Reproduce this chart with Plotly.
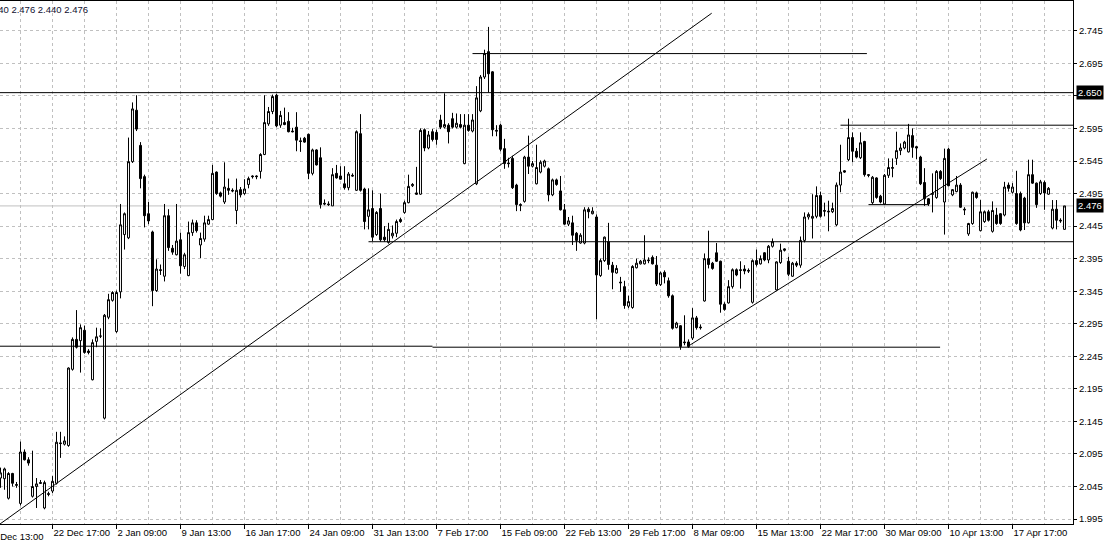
import plotly.graph_objects as go

# ---------------- data ----------------
open_ = [
    2.058, 2.057, 2.027, 2.065, 2.048, 2.019, 2.098, 2.086, 2.030, 2.045,
    2.051, 2.012, 2.034, 2.038, 2.050, 2.112, 2.110, 2.108, 2.225, 2.271,
    2.269, 2.285, 2.253, 2.209, 2.268, 2.276, 2.150, 2.305, 2.331, 2.283,
    2.344, 2.432, 2.427, 2.544, 2.623, 2.569, 2.521, 2.464, 2.436, 2.346,
    2.378, 2.368, 2.461, 2.411, 2.401, 2.424, 2.383, 2.369, 2.435, 2.450,
    2.416, 2.425, 2.448, 2.455, 2.528, 2.496, 2.482, 2.503, 2.500, 2.469,
    2.501, 2.495, 2.509, 2.522, 2.522, 2.529, 2.555, 2.602, 2.621, 2.646,
    2.600, 2.604, 2.606, 2.591, 2.597, 2.576, 2.580, 2.586, 2.526, 2.562,
    2.550, 2.480, 2.479, 2.476, 2.526, 2.522, 2.510, 2.504, 2.523, 2.500,
    2.587, 2.502, 2.460, 2.472, 2.432, 2.472, 2.428, 2.420, 2.430, 2.434,
    2.455, 2.466, 2.481, 2.507, 2.496, 2.494, 2.593, 2.565, 2.590, 2.589,
    2.608, 2.597, 2.600, 2.610, 2.597, 2.601, 2.541, 2.600, 2.591, 2.510,
    2.622, 2.674, 2.713, 2.682, 2.592, 2.600, 2.564, 2.542, 2.549, 2.508,
    2.478, 2.483, 2.551, 2.537, 2.510, 2.528, 2.537, 2.533, 2.493, 2.516,
    2.499, 2.470, 2.448, 2.450, 2.434, 2.419, 2.419, 2.471, 2.464, 2.459,
    2.369, 2.392, 2.421, 2.385, 2.373, 2.359, 2.352, 2.322, 2.320, 2.381,
    2.387, 2.387, 2.393, 2.397, 2.385, 2.355, 2.374, 2.361, 2.338, 2.289,
    2.292, 2.267, 2.267, 2.273, 2.304, 2.290, 2.330, 2.395, 2.388, 2.404,
    2.391, 2.325, 2.327, 2.352, 2.378, 2.378, 2.379, 2.377, 2.328, 2.392,
    2.387, 2.404, 2.393, 2.414, 2.347, 2.389, 2.410, 2.391, 2.368, 2.388,
    2.385, 2.423, 2.459, 2.457, 2.460, 2.492, 2.469, 2.468, 2.467, 2.447,
    2.508, 2.530, 2.547, 2.581, 2.560, 2.550, 2.575, 2.524, 2.481, 2.519,
    2.491, 2.479, 2.523, 2.535, 2.549, 2.561, 2.565, 2.559, 2.584, 2.567,
    2.551, 2.512, 2.487, 2.495, 2.489, 2.529, 2.482, 2.563, 2.493, 2.498,
    2.508, 2.471, 2.433, 2.449, 2.496, 2.438, 2.452, 2.467, 2.437, 2.462,
    2.464, 2.462, 2.508, 2.497, 2.495, 2.495, 2.488, 2.450, 2.524, 2.511,
    2.495, 2.512, 2.494, 2.442, 2.471, 2.454, 2.440,
]
high = [
    2.074, 2.074, 2.067, 2.066, 2.052, 2.114, 2.102, 2.090, 2.100, 2.058,
    2.055, 2.054, 2.037, 2.061, 2.129, 2.129, 2.122, 2.228, 2.274, 2.316,
    2.294, 2.292, 2.256, 2.271, 2.289, 2.288, 2.310, 2.341, 2.345, 2.346,
    2.479, 2.466, 2.581, 2.635, 2.646, 2.574, 2.524, 2.482, 2.438, 2.394,
    2.386, 2.479, 2.471, 2.416, 2.479, 2.435, 2.404, 2.452, 2.455, 2.454,
    2.435, 2.461, 2.461, 2.539, 2.529, 2.498, 2.543, 2.518, 2.503, 2.518,
    2.505, 2.517, 2.521, 2.523, 2.523, 2.557, 2.646, 2.628, 2.647, 2.648,
    2.622, 2.627, 2.620, 2.596, 2.620, 2.581, 2.582, 2.587, 2.564, 2.563,
    2.566, 2.486, 2.483, 2.534, 2.539, 2.537, 2.537, 2.528, 2.526, 2.592,
    2.617, 2.504, 2.503, 2.500, 2.468, 2.495, 2.445, 2.450, 2.446, 2.455,
    2.458, 2.484, 2.524, 2.511, 2.536, 2.595, 2.595, 2.591, 2.594, 2.593,
    2.616, 2.649, 2.603, 2.619, 2.618, 2.617, 2.617, 2.617, 2.617, 2.660,
    2.677, 2.716, 2.751, 2.683, 2.600, 2.602, 2.579, 2.550, 2.553, 2.510,
    2.480, 2.553, 2.584, 2.545, 2.570, 2.546, 2.547, 2.535, 2.518, 2.518,
    2.522, 2.479, 2.459, 2.461, 2.436, 2.434, 2.474, 2.474, 2.474, 2.463,
    2.395, 2.429, 2.450, 2.390, 2.385, 2.367, 2.361, 2.338, 2.385, 2.395,
    2.393, 2.431, 2.397, 2.400, 2.399, 2.375, 2.377, 2.366, 2.340, 2.298,
    2.293, 2.308, 2.271, 2.319, 2.307, 2.294, 2.403, 2.438, 2.390, 2.419,
    2.392, 2.328, 2.362, 2.380, 2.380, 2.391, 2.385, 2.380, 2.394, 2.409,
    2.400, 2.405, 2.416, 2.426, 2.391, 2.418, 2.411, 2.398, 2.390, 2.391,
    2.429, 2.466, 2.466, 2.494, 2.506, 2.498, 2.481, 2.484, 2.481, 2.512,
    2.570, 2.531, 2.610, 2.589, 2.565, 2.589, 2.576, 2.525, 2.522, 2.520,
    2.493, 2.525, 2.549, 2.549, 2.590, 2.572, 2.576, 2.602, 2.595, 2.568,
    2.553, 2.534, 2.488, 2.526, 2.531, 2.531, 2.564, 2.565, 2.502, 2.522,
    2.511, 2.474, 2.450, 2.498, 2.498, 2.485, 2.469, 2.470, 2.483, 2.473,
    2.465, 2.513, 2.512, 2.511, 2.530, 2.498, 2.490, 2.547, 2.547, 2.512,
    2.516, 2.515, 2.505, 2.485, 2.485, 2.457, 2.476,
]
low = [
    2.043, 2.040, 2.025, 2.045, 2.043, 2.016, 2.085, 2.077, 2.028, 2.012,
    2.049, 2.010, 2.030, 2.035, 2.048, 2.089, 2.108, 2.106, 2.223, 2.257,
    2.220, 2.249, 2.248, 2.208, 2.259, 2.273, 2.148, 2.302, 2.329, 2.281,
    2.334, 2.409, 2.425, 2.542, 2.591, 2.503, 2.443, 2.448, 2.322, 2.344,
    2.370, 2.360, 2.407, 2.401, 2.400, 2.372, 2.379, 2.368, 2.430, 2.435,
    2.396, 2.421, 2.447, 2.454, 2.493, 2.489, 2.479, 2.493, 2.497, 2.448,
    2.489, 2.493, 2.503, 2.518, 2.517, 2.518, 2.554, 2.599, 2.617, 2.597,
    2.596, 2.600, 2.589, 2.589, 2.560, 2.559, 2.573, 2.517, 2.523, 2.538,
    2.472, 2.477, 2.476, 2.476, 2.518, 2.516, 2.501, 2.500, 2.521, 2.499,
    2.498, 2.440, 2.440, 2.422, 2.430, 2.421, 2.421, 2.418, 2.426, 2.428,
    2.450, 2.464, 2.480, 2.505, 2.493, 2.493, 2.560, 2.563, 2.575, 2.570,
    2.594, 2.595, 2.572, 2.595, 2.595, 2.595, 2.540, 2.590, 2.589, 2.508,
    2.620, 2.671, 2.650, 2.583, 2.583, 2.560, 2.533, 2.535, 2.502, 2.468,
    2.468, 2.481, 2.525, 2.535, 2.509, 2.526, 2.535, 2.483, 2.491, 2.507,
    2.469, 2.447, 2.445, 2.416, 2.407, 2.418, 2.417, 2.457, 2.463, 2.302,
    2.367, 2.390, 2.378, 2.348, 2.372, 2.344, 2.318, 2.319, 2.318, 2.380,
    2.386, 2.386, 2.388, 2.386, 2.353, 2.353, 2.357, 2.335, 2.286, 2.288,
    2.255, 2.262, 2.258, 2.270, 2.286, 2.286, 2.329, 2.380, 2.378, 2.390,
    2.312, 2.315, 2.326, 2.349, 2.368, 2.349, 2.371, 2.373, 2.326, 2.383,
    2.386, 2.391, 2.388, 2.412, 2.346, 2.387, 2.406, 2.368, 2.367, 2.382,
    2.381, 2.420, 2.455, 2.426, 2.457, 2.458, 2.460, 2.437, 2.465, 2.445,
    2.497, 2.527, 2.545, 2.543, 2.549, 2.548, 2.521, 2.520, 2.479, 2.487,
    2.480, 2.478, 2.519, 2.520, 2.539, 2.554, 2.563, 2.558, 2.550, 2.548,
    2.508, 2.476, 2.476, 2.466, 2.487, 2.516, 2.432, 2.506, 2.491, 2.497,
    2.473, 2.462, 2.430, 2.447, 2.487, 2.437, 2.450, 2.452, 2.435, 2.447,
    2.447, 2.460, 2.498, 2.495, 2.447, 2.437, 2.439, 2.449, 2.510, 2.473,
    2.493, 2.470, 2.493, 2.440, 2.440, 2.450, 2.440,
]
close = [
    2.066, 2.072, 2.065, 2.050, 2.047, 2.098, 2.086, 2.081, 2.045, 2.049,
    2.050, 2.051, 2.033, 2.053, 2.113, 2.111, 2.115, 2.227, 2.271, 2.259,
    2.289, 2.251, 2.251, 2.266, 2.275, 2.276, 2.308, 2.332, 2.343, 2.343,
    2.447, 2.464, 2.544, 2.625, 2.594, 2.518, 2.461, 2.453, 2.346, 2.379,
    2.377, 2.461, 2.412, 2.405, 2.422, 2.384, 2.401, 2.435, 2.450, 2.438,
    2.426, 2.450, 2.455, 2.526, 2.495, 2.491, 2.505, 2.500, 2.499, 2.500,
    2.493, 2.502, 2.518, 2.521, 2.521, 2.555, 2.604, 2.621, 2.644, 2.599,
    2.615, 2.601, 2.590, 2.590, 2.577, 2.575, 2.574, 2.526, 2.562, 2.539,
    2.478, 2.479, 2.478, 2.524, 2.519, 2.517, 2.504, 2.525, 2.522, 2.590,
    2.500, 2.452, 2.470, 2.428, 2.466, 2.424, 2.424, 2.440, 2.434, 2.452,
    2.452, 2.481, 2.506, 2.509, 2.494, 2.592, 2.565, 2.585, 2.578, 2.578,
    2.597, 2.601, 2.590, 2.597, 2.603, 2.597, 2.600, 2.592, 2.608, 2.642,
    2.674, 2.710, 2.679, 2.593, 2.591, 2.563, 2.541, 2.541, 2.504, 2.478,
    2.477, 2.551, 2.537, 2.541, 2.535, 2.543, 2.545, 2.493, 2.516, 2.509,
    2.470, 2.448, 2.453, 2.431, 2.423, 2.431, 2.470, 2.467, 2.468, 2.370,
    2.392, 2.428, 2.386, 2.374, 2.380, 2.358, 2.323, 2.329, 2.383, 2.388,
    2.391, 2.393, 2.392, 2.387, 2.356, 2.373, 2.367, 2.338, 2.288, 2.296,
    2.260, 2.266, 2.260, 2.304, 2.289, 2.289, 2.395, 2.386, 2.380, 2.391,
    2.325, 2.317, 2.352, 2.378, 2.370, 2.377, 2.376, 2.376, 2.392, 2.386,
    2.395, 2.393, 2.414, 2.421, 2.390, 2.408, 2.408, 2.371, 2.388, 2.385,
    2.423, 2.459, 2.463, 2.460, 2.492, 2.460, 2.468, 2.467, 2.472, 2.508,
    2.528, 2.528, 2.581, 2.560, 2.551, 2.573, 2.524, 2.523, 2.520, 2.489,
    2.482, 2.523, 2.535, 2.534, 2.561, 2.565, 2.574, 2.585, 2.566, 2.565,
    2.510, 2.487, 2.479, 2.494, 2.529, 2.518, 2.549, 2.507, 2.501, 2.508,
    2.474, 2.470, 2.449, 2.497, 2.489, 2.467, 2.467, 2.454, 2.469, 2.449,
    2.449, 2.505, 2.503, 2.505, 2.449, 2.439, 2.450, 2.524, 2.511, 2.478,
    2.513, 2.496, 2.503, 2.471, 2.454, 2.453, 2.476,
]
assert len(open_) == len(high) == len(low) == len(close) == 267
bar_index = list(range(len(close)))

# time axis labels (one label every 16 H4 bars)
tick_index = [13, 29, 45, 61, 77, 93, 109, 125, 141, 157, 173, 189, 205, 221, 237, 253]
tick_labels = ["22 Dec 17:00", "2 Jan 09:00", "9 Jan 13:00", "16 Jan 17:00",
               "24 Jan 09:00", "31 Jan 13:00", "7 Feb 17:00", "15 Feb 09:00",
               "22 Feb 13:00", "29 Feb 17:00", "8 Mar 09:00", "15 Mar 13:00",
               "22 Mar 17:00", "30 Mar 09:00", "10 Apr 13:00", "17 Apr 17:00"]
first_label_index = -3
first_label = "15 Dec 13:00"
minor_grid_index = [5, 21, 37, 53, 69, 85, 101, 117, 133, 149, 165, 181, 197, 213, 229, 245, 261]

price_ticks = [1.995, 2.045, 2.095, 2.145, 2.195, 2.245, 2.295, 2.345,
               2.395, 2.445, 2.495, 2.545, 2.595, 2.645, 2.695, 2.745]

# drawn objects (bar index, price)
level_price = [2.650, 2.710, 2.600, 2.421, 2.2605, 2.259, 2.478]
level_from = [-1, 118, 210, 92, -1, 108, 217]
level_to = [270, 216.6, 270, 270, 108, 234.9, 232]
trend_x = [[-0.125, 177.8], [172.4, 246.6]]
trend_y = [[1.9874, 2.772], [2.2624, 2.5481]]
marked_level = 2.650

# ---------------- layout geometry ----------------
W, H = 1111, 542
ML, MR, MT, MB = 0, 38, 1, 18
x_range = [-0.125, 268.125]
y_range = [1.9874, 2.79078]
FONT = "Liberation Sans, Arial, sans-serif"
FS = 9.5
GRID = "#c0c0c0"

fig = go.Figure()

fig.add_trace(go.Candlestick(
    x=bar_index, open=open_, high=high, low=low, close=close,
    increasing=dict(line=dict(color="black", width=1), fillcolor="white"),
    decreasing=dict(line=dict(color="black", width=1), fillcolor="black"),
    whiskerwidth=0, hoverinfo="skip", showlegend=False,
))

for p, a, b in zip(level_price, level_from, level_to):
    fig.add_trace(go.Scatter(x=[a, b], y=[p, p], mode="lines",
                             line=dict(color="black", width=1),
                             hoverinfo="skip", showlegend=False))
for tx, ty in zip(trend_x, trend_y):
    fig.add_trace(go.Scatter(x=tx, y=ty, mode="lines",
                             line=dict(color="black", width=1),
                             hoverinfo="skip", showlegend=False))

# bid line (last close) behind candles
fig.add_shape(type="line", xref="paper", x0=0, x1=1, yref="y",
              y0=close[-1], y1=close[-1], line=dict(color=GRID, width=1),
              layer="below")

fig.update_layout(
    width=W, height=H, autosize=False,
    margin=dict(l=ML, r=MR, t=MT, b=MB, pad=0, autoexpand=False),
    paper_bgcolor="white", plot_bgcolor="white",
    showlegend=False, hovermode=False,
    font=dict(family=FONT, size=FS, color="black"),
)

fig.update_xaxes(
    range=x_range, rangeslider_visible=False, fixedrange=True,
    automargin=False, tickangle=0,
    tickmode="array", tickvals=tick_index, ticktext=tick_labels,
    ticks="outside", ticklen=4, tickwidth=1, tickcolor="black",
    ticklabelposition="outside right",
    tickfont=dict(family=FONT, size=FS, color="black"),
    showline=True, linecolor="black", linewidth=1, mirror=True,
    showgrid=True, gridcolor=GRID, gridwidth=1, griddash="3px,3px",
    minor=dict(tickmode="array", tickvals=minor_grid_index, showgrid=True,
               gridcolor=GRID, gridwidth=1, griddash="3px,3px", ticks=""),
    zeroline=False,
)
fig.update_yaxes(
    range=y_range, side="right", fixedrange=True, automargin=False,
    tickmode="array", tickvals=price_ticks,
    ticktext=[f"{v:.3f}" for v in price_ticks],
    ticks="outside", ticklen=3, tickwidth=1, tickcolor="black",
    tickfont=dict(family=FONT, size=FS, color="black"),
    showline=True, linecolor="black", linewidth=1, mirror=False,
    showgrid=True, gridcolor=GRID, gridwidth=1, griddash="3px,3px",
    zeroline=False,
)

# price boxes on the right axis
for val in [marked_level, close[-1]]:
    fig.add_annotation(x=1, xref="paper", y=val, yref="y", text=f"{val:.3f}",
                       showarrow=False, xanchor="left", yanchor="middle",
                       xshift=3, bgcolor="black", borderpad=1,
                       font=dict(family=FONT, size=FS, color="white"))

# partially cut first time label at the left edge
px_per_bar = (W - ML - MR) / (x_range[1] - x_range[0])
fig.add_annotation(x=0, xref="paper", y=0, yref="paper", yanchor="top",
                   xanchor="left", text=first_label, showarrow=False,
                   xshift=(first_label_index - x_range[0]) * px_per_bar - 4,
                   yshift=-5, font=dict(family=FONT, size=FS, color="black"))

# header text (last bar O H L C), cut at the left edge
header = f"{open_[-1]:.3f} {high[-1]:.3f} {low[-1]:.3f} {close[-1]:.3f}"
fig.add_annotation(x=0, xref="paper", y=1, yref="paper", xanchor="left",
                   yanchor="top", text=header, showarrow=False,
                   xshift=-17, yshift=-1,
                   font=dict(family=FONT, size=FS, color="#101030"))

fig.write_html("out.html", config={"displayModeBar": False},
               post_script="document.body.style.margin='0';document.body.style.overflow='hidden';")
